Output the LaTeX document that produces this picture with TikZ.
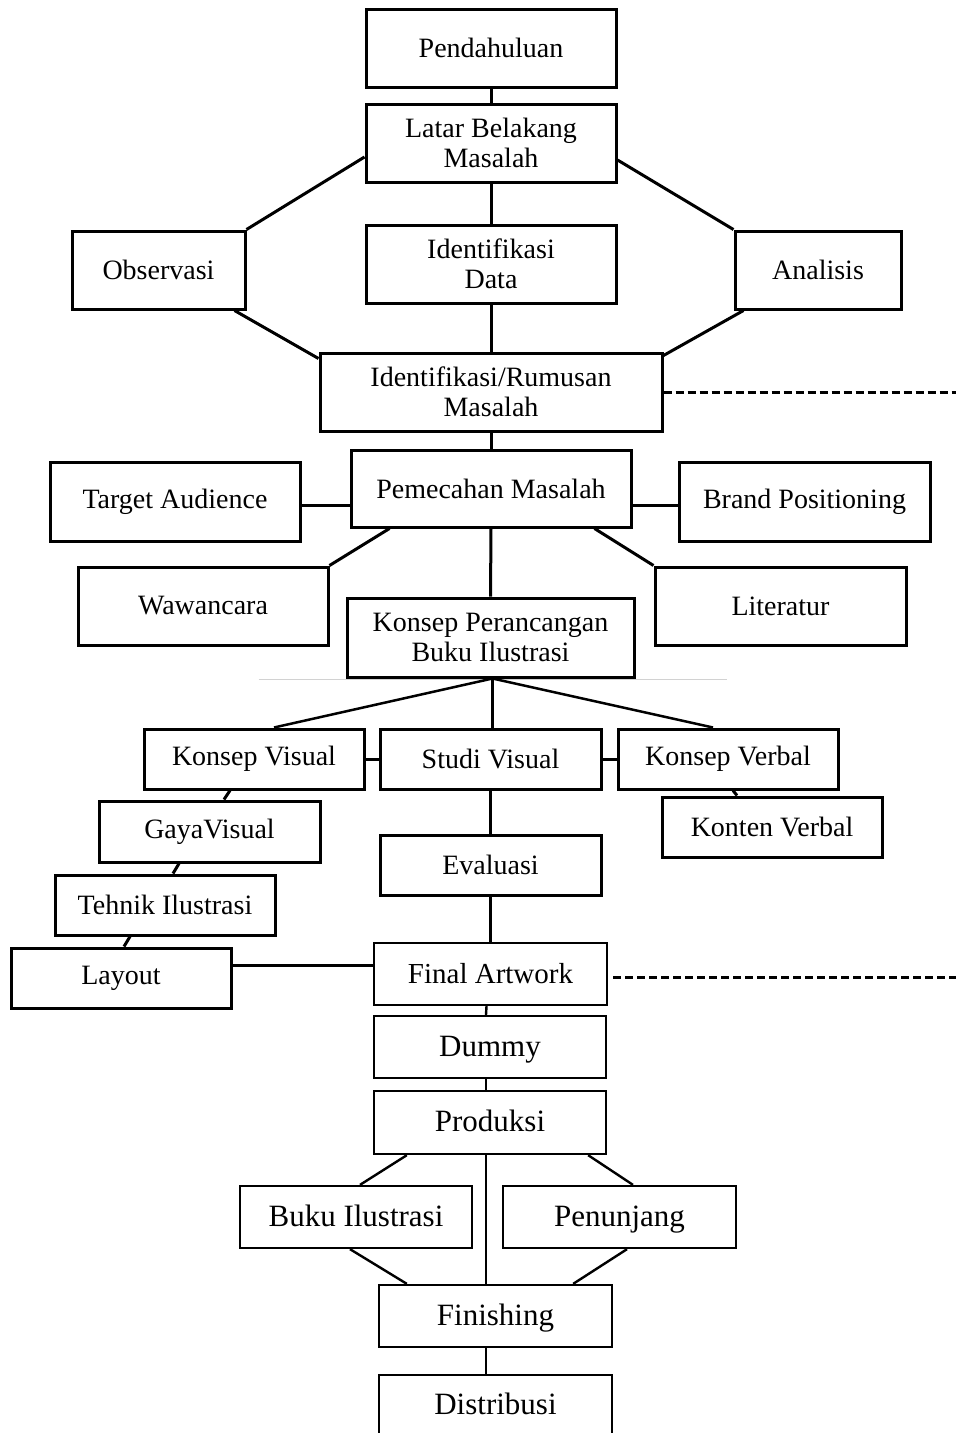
\documentclass[tikz,border=0pt]{standalone}
\usepackage{fontspec}
\setmainfont{Liberation Serif}
\usetikzlibrary{calc}
\begin{document}
\begin{tikzpicture}[x=1pt,y=-1pt,
  box/.style={draw, line width=3pt, inner sep=0pt, align=center, font=\fontsize{28}{30}\selectfont},
  boxM/.style={box, font=\fontsize{29}{31}\selectfont, line width=2.3pt, text height=20pt, text depth=2pt},
  boxL/.style={box, line width=2.3pt, font=\fontsize{31}{33}\selectfont, text height=20pt, text depth=2pt},
  conn/.style={line width=3pt},
  connL/.style={line width=2.4pt},
  dashline/.style={line width=3pt, dash pattern=on 8pt off 4pt},
  faint/.style={line width=1pt, draw=gray!35}]
\clip (0,0) rectangle (956,1433);
\fill[white] (0,0) rectangle (956,1433);
% boxes
\node[box, minimum width=250pt, minimum height=78pt] (pend) at (491,48) {Pendahuluan};
\node[box, minimum width=250pt, minimum height=78pt] (lbm) at (491,143) {Latar Belakang\\Masalah};
\node[box, minimum width=173pt, minimum height=78pt] (obs) at (158.5,270) {Observasi};
\node[box, minimum width=250pt, minimum height=78pt] (idd) at (491,264) {Identifikasi\\Data};
\node[box, minimum width=166pt, minimum height=78pt] (ana) at (818,270) {Analisis};
\node[box, minimum width=342pt, minimum height=78pt] (irm) at (491,392) {Identifikasi/Rumusan\\Masalah};
\node[box, minimum width=280pt, minimum height=77pt] (pem) at (491,488.5) {Pemecahan Masalah};
\node[box, minimum width=250pt, minimum height=79pt] (ta) at (175,501.5) {Target Audience};
\node[box, minimum width=251pt, minimum height=79pt] (bp) at (804.5,501.5) {Brand Positioning};
\node[box, minimum width=250pt, minimum height=78pt] (waw) at (203,606) {Wawancara};
\node[box, minimum width=251pt, minimum height=78pt] (lit) at (780.5,606) {Literatur};
\node[box, minimum width=287pt, minimum height=79pt] (kpbi) at (490.5,637.5) {Konsep Perancangan\\Buku Ilustrasi};
\node[box, minimum width=220pt, minimum height=60pt] (kv) at (254,759) {Konsep Visual};
\node[box, minimum width=221pt, minimum height=60pt] (sv) at (490.5,759) {Studi Visual};
\node[box, minimum width=220pt, minimum height=60pt] (kvb) at (728,759) {Konsep Verbal};
\node[box, minimum width=221pt, minimum height=61pt] (gv) at (209.5,831.5) {GayaVisual};
\node[box, minimum width=220pt, minimum height=60pt] (kt) at (772,827) {Konten Verbal};
\node[box, minimum width=221pt, minimum height=60pt] (ev) at (490.5,865) {Evaluasi};
\node[box, minimum width=220pt, minimum height=60pt] (th) at (165,905) {Tehnik Ilustrasi};
\node[box, minimum width=220pt, minimum height=60pt] (lay) at (121,978) {Layout};
\node[boxM, minimum width=233pt, minimum height=62pt] (fa) at (490.5,974) {Final Artwork};
\node[boxL, minimum width=232pt, minimum height=62pt] (dm) at (490,1047) {Dummy};
\node[boxL, minimum width=232pt, minimum height=63pt] (pr) at (490,1122.5) {Produksi};
\node[boxL, minimum width=232pt, minimum height=62pt] (bi) at (356,1217) {Buku Ilustrasi};
\node[boxL, minimum width=233pt, minimum height=62pt] (pen) at (619.5,1217) {Penunjang};
\node[boxL, minimum width=233pt, minimum height=62pt] (fin) at (495.5,1316) {Finishing};
\node[boxL, minimum width=233pt, minimum height=60pt] (dis) at (495.5,1405) {Distribusi};
% free ends of dashed lines
\coordinate (dash1) at (956,392);
\coordinate (dash2) at (956,977);
% connectors upper
\draw[conn] (pend.south) -- (lbm.north);
\draw[conn] ([yshift=-14pt]lbm.west) -- (obs.north east);
\draw[conn] ([yshift=-17pt]lbm.east) -- (ana.north west);
\draw[conn] (lbm.south) -- (idd.north);
\draw[conn] (idd.south) -- (irm.north);
\draw[conn] ([xshift=-12pt]obs.south east) -- ([yshift=-7pt]irm.north west);
\draw[conn] ([xshift=10pt]ana.south west) -- ([yshift=-4pt]irm.north east);
\draw[dashline] (irm.east) -- (dash1);
\draw[conn] (irm.south) -- (pem.north);
\draw[conn] ([yshift=-4pt]ta.east) -- ([yshift=-4pt]ta.east -| pem.west);
\draw[conn] ([yshift=-4pt]bp.west) -- ([yshift=-4pt]bp.west -| pem.east);
\draw[conn] ([xshift=40pt]pem.south west) -- (waw.north east);
\draw[conn] ([xshift=-38pt]pem.south east) -- (lit.north west);
\draw[conn] (pem.south) -- (kpbi.north);
% faint scan line
\draw[faint] ([xshift=-87pt,yshift=-1pt]kpbi.south west) -- ([xshift=91pt,yshift=-1pt]kpbi.south east);
% middle
\draw[conn, line width=2.5pt] ([xshift=2pt]kpbi.south) -- ([xshift=20pt]kv.north);
\draw[conn] ([xshift=2pt]kpbi.south) -- ([xshift=2pt]sv.north);
\draw[conn, line width=2.5pt] ([xshift=2pt]kpbi.south) -- ([xshift=-15pt]kvb.north);
\draw[conn] (kv.east) -- (sv.west);
\draw[conn] (sv.east) -- (kvb.west);
\draw[conn] ([xshift=-24pt]kv.south) -- ([xshift=14.5pt]gv.north);
\draw[conn] ([xshift=-30.5pt]gv.south) -- ([xshift=8pt]th.north);
\draw[conn] ([xshift=-35pt]th.south) -- ([xshift=3pt]lay.north);
\draw[conn] ([xshift=5pt]kvb.south) -- ([xshift=-35pt]kt.north);
\draw[conn] (sv.south) -- (ev.north);
\draw[conn] (ev.south) -- (fa.north);
\coordinate (lc) at ([yshift=13pt]lay.east);
\draw[conn] (lc) -- (lc -| fa.west);
\draw[dashline] ([xshift=5pt,yshift=-3pt]fa.east) -- (dash2);
% lower
\draw[connL] ([xshift=-4pt]fa.south) -- ([xshift=-4pt]dm.north);
\draw[connL] ([xshift=-4pt]dm.south) -- ([xshift=-4pt]pr.north);
\draw[connL] ([xshift=34pt]pr.south west) -- ([xshift=4pt]bi.north);
\draw[connL] ([xshift=-19pt]pr.south east) -- ([xshift=13.5pt]pen.north);
\draw[connL] ([xshift=-4pt]pr.south) -- ([xshift=-9.5pt]fin.north);
\draw[connL] ([xshift=-6pt]bi.south) -- ([xshift=29pt]fin.north west);
\draw[connL] ([xshift=7.5pt]pen.south) -- ([xshift=-40pt]fin.north east);
\draw[connL] ([xshift=-9.5pt]fin.south) -- ([xshift=-9.5pt]dis.north);
\end{tikzpicture}
\end{document}
